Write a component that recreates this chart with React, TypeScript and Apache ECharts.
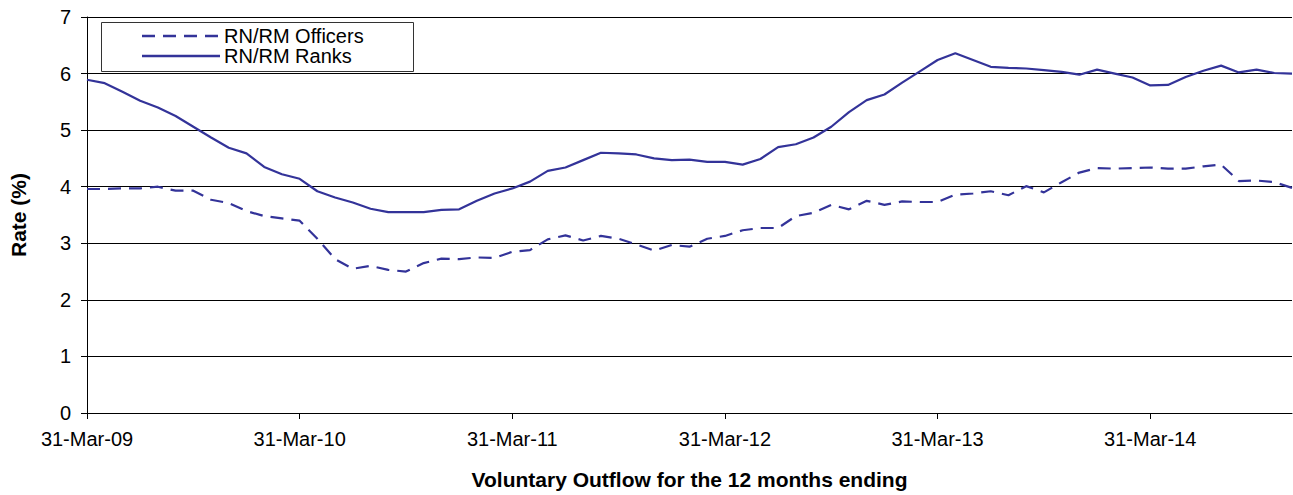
import React, { useEffect, useRef } from "react";
import * as echarts from "echarts";

const categories: string[] = [
  "31-Mar-09", "30-Apr-09", "31-May-09", "30-Jun-09", "31-Jul-09", "31-Aug-09", "30-Sep-09", "31-Oct-09", "30-Nov-09", "31-Dec-09", "31-Jan-10", "28-Feb-10",
  "31-Mar-10", "30-Apr-10", "31-May-10", "30-Jun-10", "31-Jul-10", "31-Aug-10", "30-Sep-10", "31-Oct-10", "30-Nov-10", "31-Dec-10", "31-Jan-11", "28-Feb-11",
  "31-Mar-11", "30-Apr-11", "31-May-11", "30-Jun-11", "31-Jul-11", "31-Aug-11", "30-Sep-11", "31-Oct-11", "30-Nov-11", "31-Dec-11", "31-Jan-12", "29-Feb-12",
  "31-Mar-12", "30-Apr-12", "31-May-12", "30-Jun-12", "31-Jul-12", "31-Aug-12", "30-Sep-12", "31-Oct-12", "30-Nov-12", "31-Dec-12", "31-Jan-13", "28-Feb-13",
  "31-Mar-13", "30-Apr-13", "31-May-13", "30-Jun-13", "31-Jul-13", "31-Aug-13", "30-Sep-13", "31-Oct-13", "30-Nov-13", "31-Dec-13", "31-Jan-14", "28-Feb-14",
  "31-Mar-14", "30-Apr-14", "31-May-14", "30-Jun-14", "31-Jul-14", "31-Aug-14", "30-Sep-14", "31-Oct-14", "30-Nov-14",
];

const officers: number[] = [
  3.96, 3.96, 3.97, 3.97, 4.0, 3.93, 3.93, 3.77, 3.71, 3.57, 3.48, 3.44,
  3.4, 3.08, 2.72, 2.55, 2.6, 2.53, 2.5, 2.65, 2.73, 2.72, 2.75, 2.74,
  2.85, 2.88, 3.07, 3.14, 3.05, 3.13, 3.08, 2.98, 2.87, 2.97, 2.94, 3.08,
  3.13, 3.23, 3.27, 3.27, 3.48, 3.54, 3.68, 3.6, 3.75, 3.68, 3.74, 3.73,
  3.73, 3.86, 3.88, 3.92, 3.85, 4.01, 3.9, 4.08, 4.25, 4.33, 4.32, 4.33,
  4.34, 4.32, 4.32, 4.36, 4.39, 4.1, 4.11, 4.08, 3.98,
];

const ranks: number[] = [
  5.89, 5.83, 5.68, 5.52, 5.4, 5.25, 5.06, 4.87, 4.69, 4.59, 4.35, 4.22,
  4.14, 3.92, 3.81, 3.72, 3.61, 3.55, 3.55, 3.55, 3.59, 3.6, 3.75, 3.88,
  3.97, 4.09, 4.28, 4.34, 4.47, 4.6, 4.59, 4.57, 4.5, 4.47, 4.48, 4.44,
  4.44, 4.39, 4.49, 4.7, 4.75, 4.87, 5.06, 5.32, 5.53, 5.63, 5.84, 6.04,
  6.24, 6.36, 6.24, 6.12, 6.1, 6.09, 6.06, 6.03, 5.98, 6.07, 6.0, 5.93,
  5.79, 5.8, 5.94, 6.05, 6.14, 6.02, 6.07, 6.01, 6.0,
];

const seriesNames = ["RN/RM Officers", "RN/RM Ranks"];
const FONT = "'Liberation Sans', Arial, Helvetica, sans-serif";
const LINE_COLOR = "#333399";
const DASH = [13, 8];

export default function App() {
  const ref = useRef<HTMLDivElement>(null);

  useEffect(() => {
    if (!ref.current) return;
    const chart = echarts.init(ref.current, undefined, { renderer: "svg" });
    const legendText = (text: string, y: number) => ({
      type: "text",
      x: 224,
      y,
      style: {
        text,
        fontSize: 20,
        lineHeight: 19,
        fill: "#000",
        fontFamily: FONT,
        verticalAlign: "middle",
        align: "left",
      },
      z: 11,
    });
    chart.setOption({
      animation: false,
      backgroundColor: "#ffffff",
      textStyle: { fontFamily: FONT },
      grid: { left: 76, right: 1, top: 17, bottom: 81.5, containLabel: false },
      graphic: [
        {
          type: "rect",
          shape: { x: 101.5, y: 22.5, width: 312, height: 49 },
          style: { fill: "#fff", stroke: "#333", lineWidth: 1 },
          z: 10,
        },
        {
          type: "line",
          shape: { x1: 142, y1: 36, x2: 220, y2: 36 },
          style: { stroke: LINE_COLOR, lineWidth: 2.4, lineDash: DASH },
          z: 11,
        },
        {
          type: "line",
          shape: { x1: 142, y1: 56, x2: 220, y2: 56 },
          style: { stroke: LINE_COLOR, lineWidth: 2.4 },
          z: 11,
        },
        legendText(seriesNames[0], 36),
        legendText(seriesNames[1], 56),
      ],
      xAxis: {
        type: "category",
        data: categories,
        boundaryGap: false,
        name: "Voluntary Outflow for the 12 months ending",
        nameLocation: "middle",
        nameGap: 56,
        nameTextStyle: { fontSize: 21, fontWeight: "bold", color: "#000", fontFamily: FONT },
        axisLine: { show: true, lineStyle: { color: "#000", width: 1 } },
        axisTick: { show: true, interval: 11, length: 6, lineStyle: { color: "#000" } },
        axisLabel: { interval: 11, fontSize: 20, color: "#000", margin: 16, fontFamily: FONT },
        splitLine: { show: false },
      },
      yAxis: {
        type: "value",
        min: 0,
        max: 7,
        interval: 1,
        name: "Rate (%)",
        nameLocation: "middle",
        nameGap: 58,
        nameRotate: 90,
        nameTextStyle: { fontSize: 21, fontWeight: "bold", color: "#000", fontFamily: FONT },
        axisLine: { show: true, lineStyle: { color: "#000", width: 1 } },
        axisTick: { show: true, length: 6, lineStyle: { color: "#000" } },
        axisLabel: { fontSize: 20, color: "#000", margin: 16, fontFamily: FONT },
        splitLine: { show: true, lineStyle: { color: "#000", width: 1 } },
      },
      series: [
        {
          name: seriesNames[0],
          type: "line",
          data: officers,
          showSymbol: false,
          symbol: "none",
          lineStyle: { color: LINE_COLOR, width: 2.2, type: DASH },
          itemStyle: { color: LINE_COLOR },
        },
        {
          name: seriesNames[1],
          type: "line",
          data: ranks,
          showSymbol: false,
          symbol: "none",
          lineStyle: { color: LINE_COLOR, width: 2.2, type: "solid" },
          itemStyle: { color: LINE_COLOR },
        },
      ],
    });
    return () => chart.dispose();
  }, []);

  return (
    <div
      ref={ref}
      style={{ position: "absolute", left: 0, top: 0, width: 1293, height: 495 }}
    />
  );
}
